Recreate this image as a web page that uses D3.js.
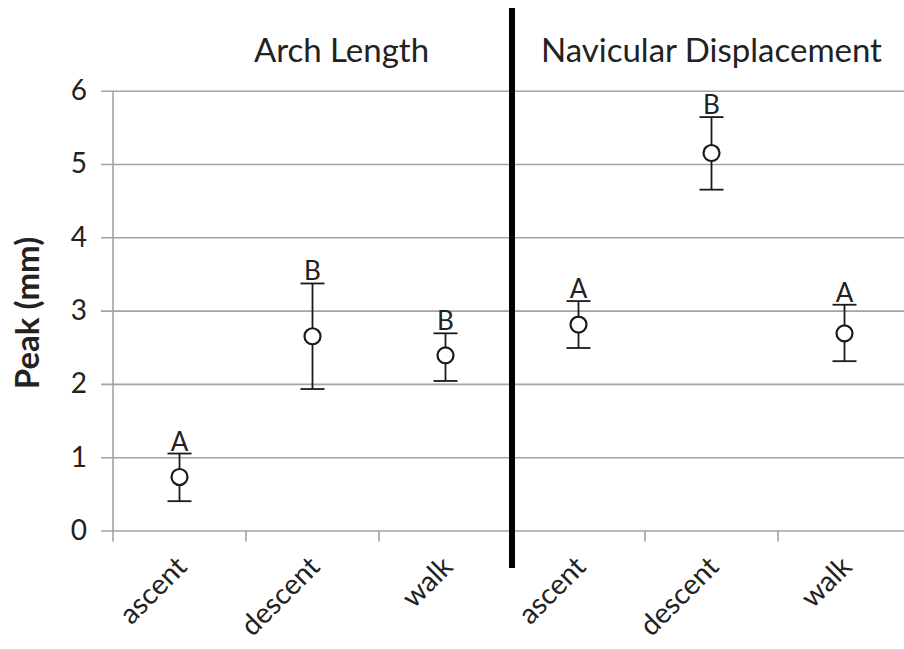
<!DOCTYPE html>
<html>
<head>
<meta charset="utf-8">
<script src="https://cdn.jsdelivr.net/npm/d3@7"></script>
<style>
  body { margin: 0; background: #fff; }
  svg { display: block; font-family: Lato, "Open Sans", sans-serif; }
</style>
</head>
<body>
<div id="chart"></div>
<script>
// data
const groups = ["Arch Length", "Navicular Displacement"];
const conditions = ["ascent", "descent", "walk"];
const archMean = [0.73, 2.65, 2.39];
const archUpper = [1.05, 3.37, 2.69];
const archLower = [0.40, 1.93, 2.04];
const archLetters = ["A", "B", "B"];
const navMean = [2.81, 5.15, 2.69];
const navUpper = [3.13, 5.64, 3.08];
const navLower = [2.49, 4.65, 2.31];
const navLetters = ["A", "B", "A"];
const yTicks = [0, 1, 2, 3, 4, 5, 6];

const width = 904, height = 649;

// build rows for drawing
const rows = [];
conditions.forEach((c, i) => rows.push({group: groups[0], cond: c, key: groups[0] + "|" + c,
  mean: archMean[i], hi: archUpper[i], lo: archLower[i], letter: archLetters[i]}));
conditions.forEach((c, i) => rows.push({group: groups[1], cond: c, key: groups[1] + "|" + c,
  mean: navMean[i], hi: navUpper[i], lo: navLower[i], letter: navLetters[i]}));

const svg = d3.select("#chart")
  .append("svg")
  .attr("width", width)
  .attr("height", height);

const xScale = d3.scaleBand()
  .domain(rows.map(d => d.key))
  .range([113, 911])
  .padding(0);

const yScale = d3.scaleLinear()
  .domain([0, 6])
  .range([530.5, 90.7]);

const grey = "#a3a3a3";

// horizontal gridlines + y ticks
svg.append("g")
  .attr("transform", "translate(113,0)")
  .call(d3.axisLeft(yScale).tickValues(yTicks).tickFormat(d3.format("d"))
    .tickSize(-(911 - 113)).tickPadding(26))
  .call(g => g.select(".domain").remove())
  .call(g => g.selectAll(".tick line").attr("stroke", grey).attr("stroke-width", 1.6)
    .attr("x1", -12))
  .call(g => g.selectAll(".tick text").attr("font-size", 28).attr("fill", "#222")
    .attr("font-family", "Lato, sans-serif"));

// y axis line
svg.append("line")
  .attr("x1", 113).attr("x2", 113)
  .attr("y1", yScale(6)).attr("y2", yScale(0) + 11)
  .attr("stroke", grey).attr("stroke-width", 1.6);

// x category boundaries (tick marks)
const bounds = rows.map(d => xScale(d.key)).slice(1);
svg.append("g").selectAll("line")
  .data(bounds)
  .enter()
  .append("line")
  .attr("x1", d => d).attr("x2", d => d)
  .attr("y1", yScale(0)).attr("y2", yScale(0) + 11)
  .attr("stroke", grey).attr("stroke-width", 1.6);

// x labels, rotated
svg.append("g").selectAll("text")
  .data(rows)
  .enter()
  .append("text")
  .attr("transform", d => `translate(${xScale(d.key) + xScale.bandwidth() / 2 + 9},${yScale(0) + 38}) rotate(-45)`)
  .attr("text-anchor", "end")
  .attr("font-size", 28.5)
  .attr("fill", "#222")
  .text(d => d.cond);

// group separator
const sepX = xScale(groups[1] + "|" + conditions[0]);
svg.append("line")
  .attr("x1", sepX).attr("x2", sepX)
  .attr("y1", 8).attr("y2", 568)
  .attr("stroke", "#000").attr("stroke-width", 6);

// group titles
const titleShift = [29, 0];
svg.append("g").selectAll("text")
  .data(groups)
  .enter()
  .append("text")
  .attr("x", (d, i) => {
    const a = xScale(d + "|" + conditions[0]);
    const b = xScale(d + "|" + conditions[2]) + xScale.bandwidth();
    return (a + b) / 2 + titleShift[i];
  })
  .attr("y", 62)
  .attr("text-anchor", "middle")
  .attr("font-size", 33)
  .attr("fill", "#222")
  .text(d => d);

// y axis title
svg.append("text")
  .attr("transform", "translate(39,313) rotate(-90)")
  .attr("text-anchor", "middle")
  .attr("font-size", 33)
  .attr("font-weight", "bold")
  .attr("fill", "#222")
  .text("Peak (mm)");

// error bars
const cx = d => xScale(d.key) + xScale.bandwidth() / 2;
const bars = svg.append("g").attr("stroke", "#1a1a1a").attr("stroke-width", 1.8);
bars.selectAll(".stem")
  .data(rows).enter().append("line")
  .attr("x1", cx).attr("x2", cx)
  .attr("y1", d => yScale(d.hi)).attr("y2", d => yScale(d.lo));
bars.selectAll(".capHi")
  .data(rows).enter().append("line")
  .attr("x1", d => cx(d) - 12).attr("x2", d => cx(d) + 12)
  .attr("y1", d => yScale(d.hi)).attr("y2", d => yScale(d.hi));
bars.selectAll(".capLo")
  .data(rows).enter().append("line")
  .attr("x1", d => cx(d) - 12).attr("x2", d => cx(d) + 12)
  .attr("y1", d => yScale(d.lo)).attr("y2", d => yScale(d.lo));

// markers
svg.append("g").selectAll("circle")
  .data(rows).enter().append("circle")
  .attr("cx", cx)
  .attr("cy", d => yScale(d.mean))
  .attr("r", 8)
  .attr("fill", "#fff")
  .attr("stroke", "#1a1a1a")
  .attr("stroke-width", 2.2);

// significance letters
svg.append("g").selectAll("text")
  .data(rows).enter().append("text")
  .attr("x", cx)
  .attr("y", d => yScale(d.hi) - 3)
  .attr("text-anchor", "middle")
  .attr("font-size", 26)
  .attr("fill", "#222")
  .text(d => d.letter);
</script>
</body>
</html>
